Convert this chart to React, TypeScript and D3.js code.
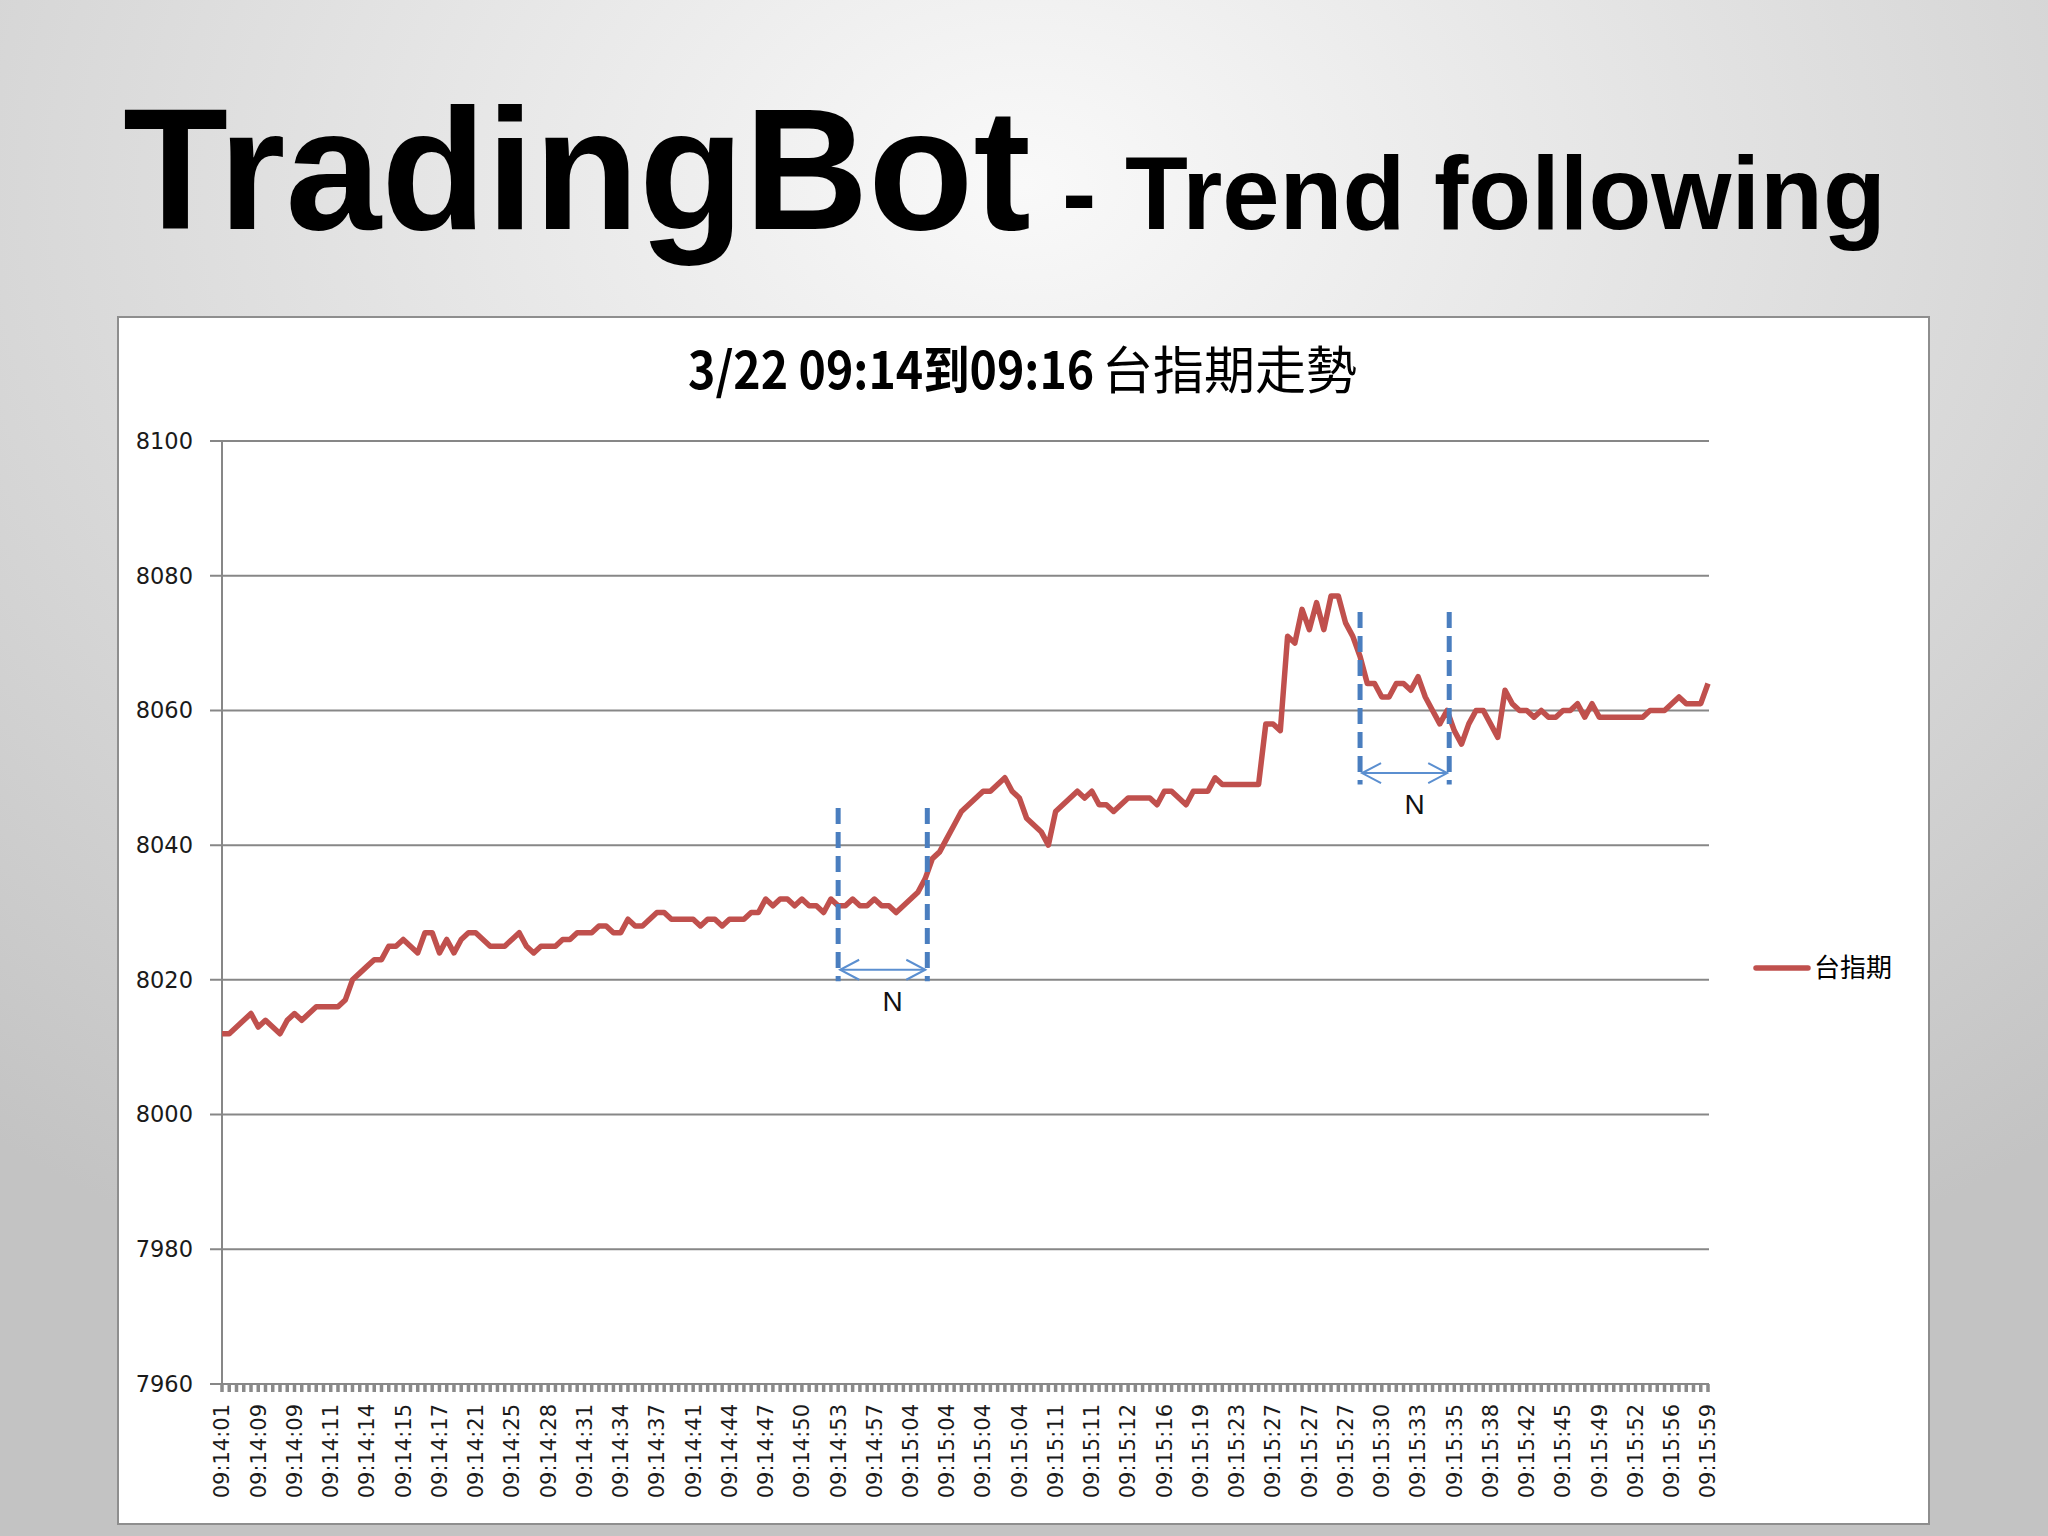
import { useEffect, useRef } from "react";
import * as d3 from "d3";

// 台指期 ticks, one per category (label shown every 5th)
const prices = [
  8012, 8012, 8013, 8014, 8015, 8013, 8014, 8013, 8012, 8014, 8015, 8014, 8015, 8016, 8016, 8016, 8016, 8017,
  8020, 8021, 8022, 8023, 8023, 8025, 8025, 8026, 8025, 8024, 8027, 8027, 8024, 8026, 8024, 8026, 8027, 8027,
  8026, 8025, 8025, 8025, 8026, 8027, 8025, 8024, 8025, 8025, 8025, 8026, 8026, 8027, 8027, 8027, 8028, 8028,
  8027, 8027, 8029, 8028,
  8028, 8029, 8030, 8030, 8029, 8029, 8029, 8029, 8028, 8029, 8029, 8028, 8029, 8029, 8029, 8030, 8030, 8032,
  8031, 8032, 8032, 8031, 8032, 8031, 8031, 8030, 8032, 8031, 8031, 8032, 8031, 8031, 8032, 8031, 8031, 8030,
  8031, 8032, 8033, 8035, 8038, 8039, 8041, 8043, 8045, 8046, 8047, 8048, 8048, 8049, 8050, 8048, 8047, 8044,
  8043,
  8042, 8040, 8045, 8046, 8047, 8048, 8047, 8048, 8046, 8046, 8045, 8046, 8047, 8047, 8047, 8047, 8046, 8048,
  8048, 8047, 8046, 8048, 8048, 8048, 8050, 8049, 8049, 8049, 8049, 8049, 8049, 8058, 8058, 8057, 8071, 8070,
  8075, 8072, 8076, 8072, 8077, 8077, 8073, 8071, 8068, 8064, 8064, 8062, 8062, 8064, 8064, 8063, 8065, 8062,
  8060, 8058, 8060, 8057, 8055, 8058, 8060, 8060, 8058, 8056, 8063, 8061, 8060, 8060, 8059, 8060, 8059, 8059,
  8060, 8060, 8061, 8059, 8061, 8059, 8059, 8059, 8059, 8059, 8059, 8059, 8060, 8060, 8060, 8061, 8062, 8061,
  8061, 8061, 8064
];

const timeLabels = [
  "09:14:01", "09:14:09", "09:14:09", "09:14:11", "09:14:14", "09:14:15", "09:14:17", "09:14:21",
  "09:14:25", "09:14:28", "09:14:31", "09:14:34", "09:14:37", "09:14:41", "09:14:44", "09:14:47",
  "09:14:50", "09:14:53", "09:14:57", "09:15:04", "09:15:04", "09:15:04", "09:15:04", "09:15:11",
  "09:15:11", "09:15:12", "09:15:16", "09:15:19", "09:15:23", "09:15:27", "09:15:27", "09:15:27",
  "09:15:30", "09:15:33", "09:15:35", "09:15:38", "09:15:42", "09:15:45", "09:15:49", "09:15:52",
  "09:15:56", "09:15:59"
];
const labelEvery = 5;

const yTicks = [7960, 7980, 8000, 8020, 8040, 8060, 8080, 8100];

// "N" window annotations: start/end index, top/bottom value of the dashed markers, arrow level
const windows = [
  { start: 85, end: 97.3, top: 8045.5, bottom: 8019.8, arrow: 8021.5 },
  { start: 157, end: 169.3, top: 8074.6, bottom: 8049, arrow: 8050.7 }
];

export default function App() {
  const ref = useRef<SVGSVGElement>(null);

  useEffect(() => {
    const width = 2048;
    const height = 1536;
    const plotLeft = 222;
    const plotRight = 1708;
    const plotTop = 441;
    const plotBottom = 1384;

    d3.select(ref.current).selectAll("*").remove();
    const svg = d3.select(ref.current)
      .attr("width", width)
      .attr("height", height)
      .attr("viewBox", [0, 0, width, height]);

    // slide background
    const defs = svg.append("defs");
    const grad = defs.append("radialGradient")
      .attr("id", "bg")
      .attr("cx", "50%").attr("cy", "12%").attr("r", "80%");
    grad.append("stop").attr("offset", "0%").attr("stop-color", "#f9f9f9");
    grad.append("stop").attr("offset", "100%").attr("stop-color", "#c3c3c3");
    svg.append("rect").attr("width", width).attr("height", height).attr("fill", "url(#bg)");

    // slide title
    const title = svg.append("text")
      .attr("x", 123)
      .attr("y", 229)
      .attr("font-family", "'Liberation Sans', Arial, sans-serif")
      .attr("font-weight", "bold")
      .attr("fill", "#000");
    title.append("tspan").attr("font-size", 172).text("TradingBot");
    title.append("tspan").attr("font-size", 103).attr("x", 1062).text("- Trend following");

    // chart area
    svg.append("rect")
      .attr("x", 118).attr("y", 317)
      .attr("width", 1811).attr("height", 1207)
      .attr("fill", "#fff")
      .attr("stroke", "#8e8e8e")
      .attr("stroke-width", 2);

    // chart title: condensed bold date part, regular CJK part
    svg.append("text")
      .attr("transform", "translate(688,389) scale(0.91,1)")
      .attr("font-size", 51)
      .attr("font-family", "'Noto Sans CJK TC', sans-serif")
      .attr("font-weight", "bold")
      .attr("fill", "#000")
      .text("3/22 09:14到09:16");
    svg.append("text")
      .attr("x", 1102)
      .attr("y", 389)
      .attr("font-size", 51)
      .attr("font-family", "'Noto Sans CJK TC', sans-serif")
      .attr("fill", "#000")
      .text("台指期走勢");

    const x = d3.scaleLinear()
      .domain([0, prices.length - 1])
      .range([plotLeft, plotRight]);

    const y = d3.scaleLinear()
      .domain([7960, 8100])
      .range([plotBottom, plotTop]);

    // gridlines + y axis
    svg.append("g")
      .attr("stroke", "#878787")
      .attr("stroke-width", 2)
      .selectAll("line")
      .data(yTicks)
      .join("line")
        .attr("x1", plotLeft - 12)
        .attr("x2", plotRight + 1)
        .attr("y1", d => y(d))
        .attr("y2", d => y(d));

    svg.append("line")
      .attr("x1", plotLeft).attr("x2", plotLeft)
      .attr("y1", plotTop).attr("y2", plotBottom)
      .attr("stroke", "#878787")
      .attr("stroke-width", 2);

    svg.append("g")
      .attr("font-family", "'DejaVu Sans', sans-serif")
      .attr("font-size", 22.5)
      .attr("fill", "#1a1a1a")
      .attr("text-anchor", "end")
      .selectAll("text")
      .data(yTicks)
      .join("text")
        .attr("x", 193)
        .attr("y", d => y(d))
        .attr("dy", "0.35em")
        .text(d => d);

    // category ticks
    svg.append("g")
      .attr("stroke", "#8a8a8a")
      .attr("stroke-width", 3.5)
      .selectAll("line")
      .data(d3.range(prices.length))
      .join("line")
        .attr("x1", d => x(d))
        .attr("x2", d => x(d))
        .attr("y1", plotBottom)
        .attr("y2", plotBottom + 8);

    svg.append("g")
      .attr("font-family", "'DejaVu Sans', sans-serif")
      .attr("font-size", 21)
      .attr("fill", "#1a1a1a")
      .attr("text-anchor", "end")
      .selectAll("text")
      .data(timeLabels)
      .join("text")
        .attr("transform", (d, i) => `translate(${x(i * labelEvery)},1404) rotate(-90)`)
        .attr("dy", "0.35em")
        .text(d => d);

    // price line
    svg.append("path")
      .datum(prices)
      .attr("fill", "none")
      .attr("stroke", "#c0504d")
      .attr("stroke-width", 5.5)
      .attr("stroke-linejoin", "round")
      .attr("d", d3.line<number>()
        .x((d, i) => x(i))
        .y(d => y(d)));

    // N windows
    const ann = svg.append("g").selectAll("g").data(windows).join("g");
    ann.selectAll("line.mark")
      .data(w => [w.start, w.end].map(i => ({ i, w })))
      .join("line")
        .attr("class", "mark")
        .attr("x1", d => x(d.i))
        .attr("x2", d => x(d.i))
        .attr("y1", d => y(d.w.top))
        .attr("y2", d => y(d.w.bottom))
        .attr("stroke", "#4a7ebf")
        .attr("stroke-width", 5)
        .attr("stroke-dasharray", "16 8");
    ann.append("line")
      .attr("x1", w => x(w.start) + 2)
      .attr("x2", w => x(w.end) - 2)
      .attr("y1", w => y(w.arrow))
      .attr("y2", w => y(w.arrow))
      .attr("stroke", "#5b8fd0")
      .attr("stroke-width", 2);
    ann.append("path")
      .attr("fill", "none")
      .attr("stroke", "#5b8fd0")
      .attr("stroke-width", 2)
      .attr("d", w => {
        const a = x(w.start) + 2, b = x(w.end) - 2, yy = y(w.arrow);
        return `M${a + 19},${yy - 10}L${a},${yy}L${a + 19},${yy + 10}` +
          `M${b - 19},${yy - 10}L${b},${yy}L${b - 19},${yy + 10}`;
      });
    ann.append("text")
      .attr("x", w => (x(w.start) + x(w.end)) / 2 + 10)
      .attr("y", w => y(w.arrow) + 41)
      .attr("text-anchor", "middle")
      .attr("font-family", "'Liberation Sans', Arial, sans-serif")
      .attr("font-size", 28)
      .attr("fill", "#111")
      .text("N");

    // legend
    svg.append("line")
      .attr("x1", 1756).attr("x2", 1808)
      .attr("y1", 968).attr("y2", 968)
      .attr("stroke", "#c0504d")
      .attr("stroke-width", 5.5)
      .attr("stroke-linecap", "round");
    svg.append("text")
      .attr("x", 1814)
      .attr("y", 968)
      .attr("dy", "0.35em")
      .attr("font-family", "'Noto Sans CJK TC', sans-serif")
      .attr("font-size", 26)
      .attr("fill", "#000")
      .text("台指期");
  }, []);

  return <svg ref={ref} style={{ position: "absolute", left: 0, top: 0, display: "block" }}></svg>;
}
